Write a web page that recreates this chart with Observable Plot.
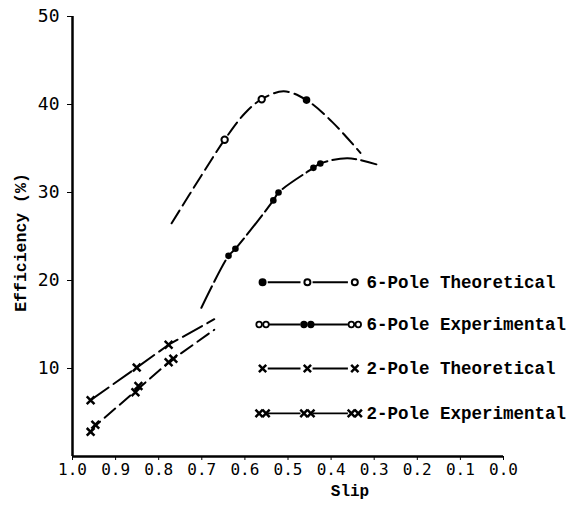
<!DOCTYPE html>
<html>
<head>
<meta charset="utf-8">
<script src="https://cdn.jsdelivr.net/npm/d3@7"></script>
<script src="https://cdn.jsdelivr.net/npm/@observablehq/plot@0.6"></script>
<style>
  html, body { margin: 0; padding: 0; background: #fff; }
  #chart svg { display: block; }
</style>
</head>
<body>
<div id="chart"></div>
<script>
// ---- Data ----
const xTicks = [1.0, 0.9, 0.8, 0.7, 0.6, 0.5, 0.4, 0.3, 0.2, 0.1, 0.0];
const yTicks = [10, 20, 30, 40, 50];

// 6-Pole Theoretical curve (upper dashed curve)
const theo6Slip = [0.770, 0.700, 0.647, 0.600, 0.561, 0.510, 0.457, 0.397, 0.332];
const theo6Eff  = [26.5, 32.0, 36.0, 39.0, 40.6, 41.5, 40.5, 38.0, 34.5];
// markers on it
const theo6OpenSlip = [0.647, 0.561];
const theo6OpenEff  = [36.0, 40.6];
const theo6FillSlip = [0.457];
const theo6FillEff  = [40.5];

// 6-Pole Experimental curve (lower curve)
const exp6Slip = [0.701, 0.638, 0.622, 0.534, 0.522, 0.441, 0.425, 0.362, 0.295];
const exp6Eff  = [16.9, 22.8, 23.6, 29.1, 30.0, 32.8, 33.3, 33.9, 33.2];
const exp6PtSlip = [0.638, 0.622, 0.534, 0.522, 0.441, 0.425];
const exp6PtEff  = [22.8, 23.6, 29.1, 30.0, 32.8, 33.3];

// 2-Pole Theoretical
const theo2Slip = [0.958, 0.851, 0.777, 0.671];
const theo2Eff  = [6.4, 10.1, 12.7, 15.6];
const theo2PtSlip = [0.958, 0.851, 0.777];
const theo2PtEff  = [6.4, 10.1, 12.7];

// 2-Pole Experimental
const exp2Slip = [0.958, 0.947, 0.850, 0.772, 0.671];
const exp2Eff  = [2.8, 3.5, 7.6, 10.9, 14.4];
const exp2PtSlip = [0.958, 0.947, 0.854, 0.847, 0.777, 0.766];
const exp2PtEff  = [2.8, 3.6, 7.3, 8.0, 10.7, 11.1];

// Legend
const legendLabels = ["6-Pole Theoretical", "6-Pole Experimental", "2-Pole Theoretical", "2-Pole Experimental"];
const legendRowEff = [19.8, 15.0, 10.0, 4.9];
const legendSymSlip = [0.559, 0.455, 0.345];
const legendTextSlip = 0.318;

// ---- Build tables ----
const zip = (xs, ys) => xs.map((x, i) => ({x, y: ys[i]}));
const theo6 = zip(theo6Slip, theo6Eff);
const exp6 = zip(exp6Slip, exp6Eff);
const theo2 = zip(theo2Slip, theo2Eff);
const exp2 = zip(exp2Slip, exp2Eff);

const legSegs = [];
const legSyms = [];
legendLabels.forEach((lab, r) => {
  for (let k = 0; k < legendSymSlip.length - 1; k++) {
    legSegs.push({r, x1: legendSymSlip[k] - 0.012, x2: legendSymSlip[k + 1] + 0.016, y: legendRowEff[r]});
  }
  legendSymSlip.forEach((s, k) => legSyms.push({r, k, x: s, y: legendRowEff[r]}));
});
const legText = legendLabels.map((t, r) => ({t, x: legendTextSlip, y: legendRowEff[r]}));

const mono = "'Liberation Mono', 'DejaVu Sans Mono', monospace";
const tickFont = "'DejaVu Sans Mono', monospace";
const pair = 0.008;

const chart = Plot.plot({
  width: 584,
  height: 508,
  marginLeft: 72,
  marginRight: 81,
  marginTop: 16,
  marginBottom: 52,
  style: {fontFamily: mono, fontSize: "16px", color: "#000", background: "#fff"},
  x: {domain: [1, 0], ticks: xTicks, tickFormat: d3.format(".1f")},
  y: {domain: [0, 50], ticks: yTicks},
  marks: [
    Plot.axisX({ticks: xTicks, tickFormat: d3.format(".1f"), tickSize: 4, tickPadding: 3, fontSize: 16, fontFamily: tickFont, label: null}),
    Plot.axisY({ticks: yTicks, tickSize: 5, tickPadding: 8, fontSize: 18, fontFamily: tickFont, label: null}),
    Plot.ruleY([0], {stroke: "#000", strokeWidth: 2.5}),
    Plot.ruleX([1], {y1: 0, y2: 50, stroke: "#000", strokeWidth: 2.5}),
    Plot.text(["Slip"], {frameAnchor: "bottom", dx: 62, dy: 39, fontWeight: "bold", fontSize: 16, fontFamily: mono}),
    Plot.text(["Efficiency (%)"], {frameAnchor: "left", textAnchor: "middle", dx: -52, dy: 6, rotate: -90, fontWeight: "bold", fontSize: 16.5, fontFamily: mono}),

    // curves
    Plot.line(theo6, {x: "x", y: "y", curve: "catmull-rom", stroke: "#000", strokeWidth: 2, strokeDasharray: "15,6"}),
    Plot.line(exp6, {x: "x", y: "y", curve: "catmull-rom", stroke: "#000", strokeWidth: 2, strokeDasharray: "24,5"}),
    Plot.line(theo2, {x: "x", y: "y", stroke: "#000", strokeWidth: 2, strokeDasharray: "22,6"}),
    Plot.line(exp2, {x: "x", y: "y", stroke: "#000", strokeWidth: 2, strokeDasharray: "14,6"}),

    // markers
    Plot.dot(zip(theo6OpenSlip, theo6OpenEff), {x: "x", y: "y", r: 3.2, stroke: "#000", strokeWidth: 2, fill: "#fff"}),
    Plot.dot(zip(theo6FillSlip, theo6FillEff), {x: "x", y: "y", r: 3.8, fill: "#000"}),
    Plot.dot(zip(exp6PtSlip, exp6PtEff), {x: "x", y: "y", r: 3.3, fill: "#000"}),
    Plot.dot(zip(theo2PtSlip, theo2PtEff), {x: "x", y: "y", r: 3.6, symbol: "times", stroke: "#000", strokeWidth: 2.5}),
    Plot.dot(zip(exp2PtSlip, exp2PtEff), {x: "x", y: "y", r: 3.6, symbol: "times", stroke: "#000", strokeWidth: 2.5}),

    // legend
    Plot.link(legSegs, {x1: "x1", x2: "x2", y1: "y", y2: "y", stroke: "#000", strokeWidth: 1.8}),
    Plot.dot(legSyms.filter(d => d.r === 0), {x: "x", y: "y", r: 3, fill: d => d.k === 0 ? "#000" : "#fff", stroke: "#000", strokeWidth: 2}),
    Plot.dot(legSyms.filter(d => d.r === 1).flatMap(d => [{...d, x: d.x + pair}, {...d, x: d.x - pair}]), {x: "x", y: "y", r: 2.8, fill: d => d.k === 1 ? "#000" : "#fff", stroke: "#000", strokeWidth: 1.8}),
    Plot.dot(legSyms.filter(d => d.r === 2), {x: "x", y: "y", r: 3.4, symbol: "times", stroke: "#000", strokeWidth: 2.5}),
    Plot.dot(legSyms.filter(d => d.r === 3).flatMap(d => [{...d, x: d.x + pair}, {...d, x: d.x - pair}]), {x: "x", y: "y", r: 3.4, symbol: "times", stroke: "#000", strokeWidth: 2.5}),
    Plot.text(legText, {x: "x", y: "y", text: "t", textAnchor: "start", fontSize: 17.5, fontWeight: "bold", fontFamily: mono})
  ]
});
document.getElementById("chart").appendChild(chart);
</script>
</body>
</html>
